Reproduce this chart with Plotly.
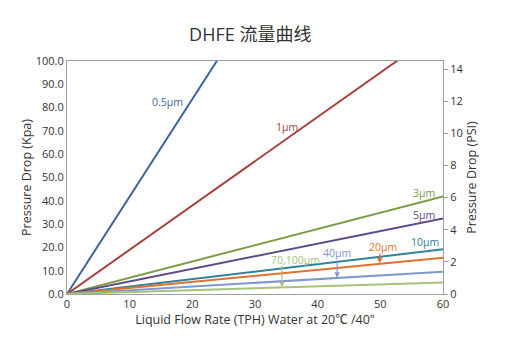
import plotly.graph_objects as go

# Data
flow = [0, 60]  # TPH
series_names = ["0.5μm", "1μm", "3μm", "5μm", "10μm", "20μm", "40μm", "70,100μm"]
p_05 = [0, 251.0]
p_1 = [0, 114.0]
p_3 = [0, 41.9]
p_5 = [0, 32.4]
p_10 = [0, 19.2]
p_20 = [0, 15.6]
p_40 = [0, 9.6]
p_70 = [0, 4.9]
series_values = [p_05, p_1, p_3, p_5, p_10, p_20, p_40, p_70]
colors = ["#3C6699", "#A5423E", "#7E9C45", "#5E4A8C", "#2F8499", "#E3702E", "#8098CF", "#A8C27E"]

x_ticks = [0, 10, 20, 30, 40, 50, 60]
y_ticks = [0, 10, 20, 30, 40, 50, 60, 70, 80, 90, 100]
psi_ticks = [0, 2, 4, 6, 8, 10, 12, 14]
KPA_PER_PSI = 6.89476

# label positions (data coords) and arrows
labels = [
    ("0.5μm", 16.1, 82.4, None),
    ("1μm", 35.1, 71.7, None),
    ("3μm", 56.9, 43.3, None),
    ("5μm", 56.9, 33.9, None),
    ("10μm", 57.1, 22.3, None),
    ("20μm", 50.4, 20.2, (49.9, 18.0, 13.2)),
    ("40μm", 43.1, 17.6, (43.1, 14.3, 7.0)),
    ("70,100μm", 36.5, 14.6, (34.3, 12.9, 2.9)),
]

fig = go.Figure()
for name, vals, c in zip(series_names, series_values, colors):
    fig.add_trace(go.Scatter(x=flow, y=vals, mode="lines", name=name,
                             line=dict(color=c, width=2), showlegend=False))
# invisible trace for secondary axis
fig.add_trace(go.Scatter(x=[0], y=[0], yaxis="y2", mode="markers",
                         marker=dict(opacity=0), showlegend=False, hoverinfo="skip"))

font_fam = "Open Sans, Noto Sans CJK SC, sans-serif"
annotations = []
for (text, lx, ly, arrow), c in zip(labels, colors):
    annotations.append(dict(x=lx, y=ly, xref="x", yref="y", text=text, showarrow=False,
                            font=dict(size=10.5, color=c, family=font_fam)))
    if arrow:
        ax_, tail_y, head_y = arrow
        annotations.append(dict(x=ax_, y=head_y, xref="x", yref="y", ax=ax_, ay=tail_y,
                                axref="x", ayref="y", text="", showarrow=True,
                                arrowhead=2, arrowsize=0.9, arrowwidth=1.2, arrowcolor=c))

fig.update_layout(
    width=513, height=352,
    margin=dict(l=67, r=70, t=61, b=58),
    paper_bgcolor="white", plot_bgcolor="white",
    font=dict(family=font_fam, size=11, color="#333333"),
    title=dict(text="DHFE 流量曲线", x=250 / 513, xref="paper", xanchor="center",
               y=1 - 35 / 352, yanchor="middle",
               font=dict(size=18, color="#333333", family=font_fam)),
    xaxis=dict(range=[0, 60], tickvals=x_ticks, showline=True, linecolor="#A0A0A0",
               mirror=True, showgrid=False, zeroline=False, ticks="",
               title=dict(text="Liquid Flow Rate (TPH) Water at 20℃ /40\"",
                          font=dict(size=12.5, color="#333333"), standoff=2)),
    yaxis=dict(range=[0, 100], tickvals=y_ticks, tickformat=".1f", showline=True,
               linecolor="#A0A0A0", mirror=True, showgrid=False, zeroline=False, ticks="",
               title=dict(text="Pressure Drop (Kpa)", font=dict(size=12.5, color="#333333"),
                          standoff=1)),
    yaxis2=dict(range=[0, 100 / KPA_PER_PSI], tickvals=psi_ticks, overlaying="y",
                side="right", showgrid=False, zeroline=False, showline=False,
                ticks="outside", ticklen=4, tickcolor="#A0A0A0",
                title=dict(text="Pressure Drop (PSI)", font=dict(size=12.5, color="#333333"),
                           standoff=3)),
    annotations=annotations,
)

fig.write_html("out.html")
